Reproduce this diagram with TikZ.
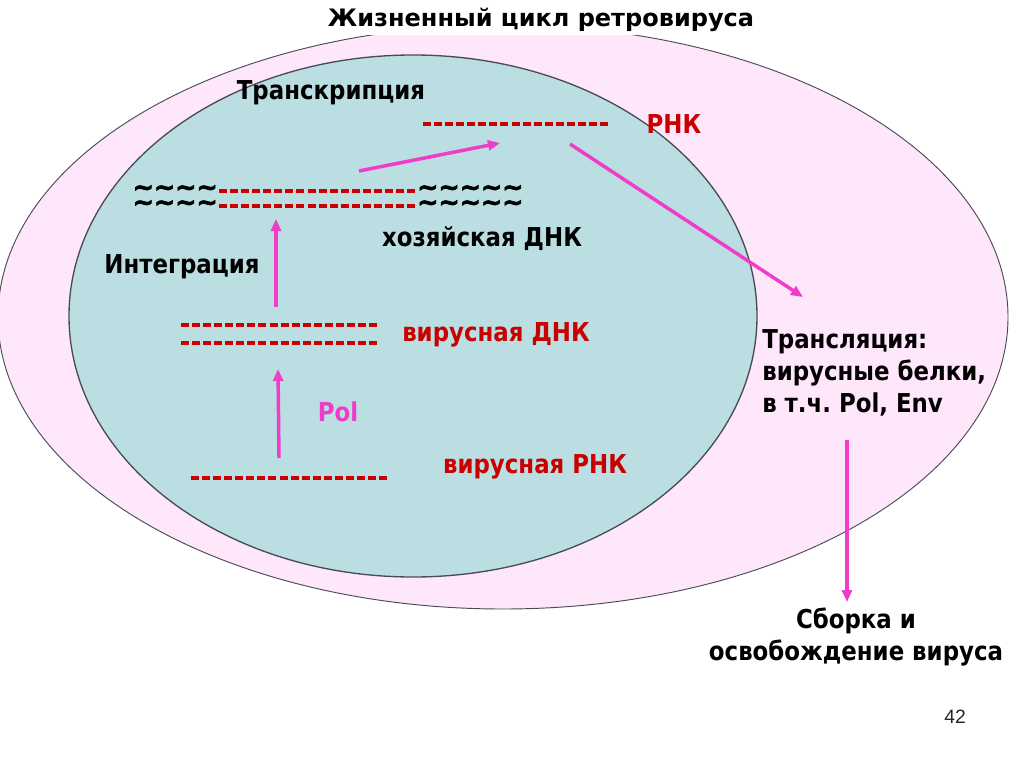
\documentclass[tikz,border=0pt]{standalone}
\usepackage{fontspec}
\setmainfont{DejaVu Sans}[FakeStretch=0.88]
\newfontfamily\titlefont{DejaVu Sans}
\newfontfamily\wavefont{DejaVu Sans}[FakeBold=2.5]
\newfontfamily\pagefont{Liberation Sans}
\usetikzlibrary{arrows.meta,positioning}
\definecolor{cellpink}{RGB}{254,230,251}
\definecolor{nucteal}{RGB}{186,222,226}
\definecolor{strandred}{RGB}{200,0,0}
\definecolor{flowpink}{RGB}{240,60,200}
\definecolor{rim}{RGB}{75,75,85}
\newcommand{\waves}[1]{\foreach \i in {1,...,#1}{\textasciitilde}}

\begin{document}
\frenchspacing
\begin{tikzpicture}[x=0.75pt,y=-0.75pt,
    label/.style={font=\fontsize{19.5}{24}\selectfont\bfseries, inner sep=0pt},
    redlabel/.style={label, text=strandred},
    strand/.style={draw=strandred, line width=3pt, dash pattern=on 6pt off 2.3pt},
    wave/.style={font=\wavefont\fontsize{19}{11.25}\selectfont\bfseries, inner sep=0pt, align=left},
    flow/.style={draw=flowpink, line width=2.6pt, -{Triangle[length=9pt,width=7.5pt]}}
]
\useasboundingbox (0,0) rectangle (1024,767);

% cell and nucleus
\filldraw[fill=cellpink, draw=rim, line width=0.7pt] (503,317) ellipse [x radius=378.75pt, y radius=219pt];
\filldraw[fill=nucteal, draw=rim, line width=1pt] (413,316) ellipse [x radius=258pt, y radius=195.75pt];

\fill[white] (320,0) rectangle (762,35);
\node[font=\titlefont\fontsize{18}{20}\selectfont\bfseries] (title) at (541,20) {Жизненный цикл ретровируса};

% labels
\node[label] (transcr) at (331,93) {Транскрипция};
\node[redlabel] (rnk) at (674,124) {РНК};
\node[label] (hostdna) at (482,239) {хозяйская ДНК};
\node[label] (integr) at (182,267) {Интеграция};
\node[redlabel] (virdna) at (496,335) {вирусная ДНК};
\node[label, text=flowpink] (pol) at (338,412) {Pol};
\node[redlabel] (virrna) at (535,467) {вирусная РНК};
\node[label, anchor=west, align=left] (transl) at (762,373) {Трансляция:\\вирусные белки,\\в т.ч. Pol, Env};
\node[label, align=center] (assembly) at (856,637) {Сборка и\\освобождение вируса};
\node[font=\pagefont\fontsize{14.5}{16}\selectfont, text=black!85] (pageno) at (955,717) {42};

% strands
\coordinate (rna-l) at (423,124);
\coordinate (rna-r) at (608,124);
\draw[strand] (rna-l) -- (rna-r);
\node[wave, anchor=east] (host-lw) at (218,198) {\waves{4}\\\waves{4}};
\node[wave, anchor=west] (host-rw) at (417,198) {\waves{5}\\\waves{5}};
\foreach \y in {191,206} {
    \draw[strand] (219,\y) -- (415,\y);
}
\foreach \y in {325,343} {
    \draw[strand] (181,\y) -- (377,\y);
}
\coordinate (vrna-l) at (191,478);
\coordinate (vrna-r) at (387,478);
\draw[strand] (vrna-l) -- (vrna-r);

% arrows
\coordinate (tr-a) at (359,171);
\coordinate (tr-b) at (500,143);
\coordinate (tl-a) at (570,144);
\coordinate (tl-b) at (803,297);
\coordinate (in-a) at (276,307);
\coordinate (in-b) at (276,219);
\coordinate (rt-a) at (279,458);
\coordinate (rt-b) at (278,369);
\coordinate (as-a) at (847,440);
\coordinate (as-b) at (847,602);
\draw[flow] (tr-a) -- (tr-b);
\draw[flow] (tl-a) -- (tl-b);
\draw[flow] (in-a) -- (in-b);
\draw[flow] (rt-a) -- (rt-b);
\draw[flow] (as-a) -- (as-b);

\end{tikzpicture}
\end{document}
